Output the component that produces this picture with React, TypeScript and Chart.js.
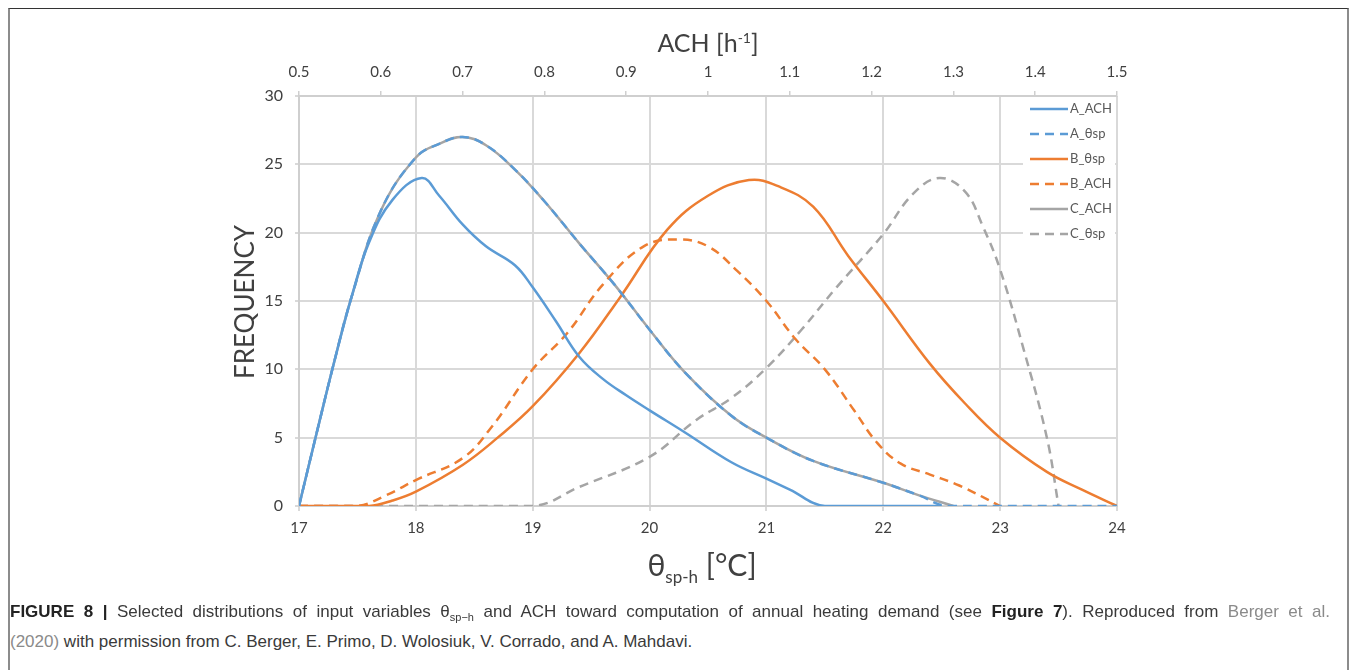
import React, { useEffect, useRef } from "react";
import { Chart, registerables } from "chart.js";

Chart.register(...registerables);

// ---------- data ----------
const xTicks = [17, 18, 19, 20, 21, 22, 23, 24];
const yTicks = [0, 5, 10, 15, 20, 25, 30];
const achTicks = [0.5, 0.6, 0.7, 0.8, 0.9, 1.0, 1.1, 1.2, 1.3, 1.4, 1.5];
const achTickLabels = ["0.5", "0.6", "0.7", "0.8", "0.9", "1", "1.1", "1.2", "1.3", "1.4", "1.5"];

const seriesNames = ["A_ACH", "A_θsp", "B_θsp", "B_ACH", "C_ACH", "C_θsp"];

const aAchX = [17, 17.15, 17.3, 17.45, 17.6, 17.8, 18.05, 18.2, 18.4, 18.6, 18.85, 19.0, 19.2, 19.4, 19.6, 19.8, 20.0, 20.3, 20.7, 21.0, 21.2, 21.5, 22.5];
const aAchY = [0, 5.3, 10.5, 15.3, 19.3, 22.4, 24.0, 22.7, 20.6, 19.0, 17.6, 16.0, 13.5, 10.9, 9.3, 8.1, 7.0, 5.4, 3.2, 2.0, 1.2, 0, 0];

const aSpX = [17, 17.15, 17.3, 17.45, 17.7, 18.0, 18.2, 18.4, 18.6, 18.85, 19.1, 19.4, 19.7, 20.0, 20.3, 20.7, 21.0, 21.4, 22.0, 22.3, 22.55, 24];
const aSpY = [0, 5.3, 10.5, 15.3, 21.6, 25.5, 26.5, 27.0, 26.4, 24.6, 22.3, 19.2, 16.2, 12.9, 9.8, 6.6, 5.0, 3.3, 1.7, 0.8, 0, 0];

const bSpX = [17, 17.6, 17.8, 18.0, 18.4, 18.7, 19.0, 19.4, 19.75, 20.15, 20.5, 20.85, 21.1, 21.4, 21.7, 22.0, 22.4, 22.7, 23.0, 23.4, 23.7, 24];
const bSpY = [0, 0, 0.4, 1.05, 3.0, 5.0, 7.3, 11.2, 15.3, 20.2, 22.7, 23.85, 23.4, 21.9, 18.3, 15.0, 10.4, 7.5, 5.0, 2.5, 1.2, 0];

const bAchX = [17, 17.5, 17.75, 18.0, 18.4, 18.65, 19.0, 19.3, 19.6, 19.95, 20.25, 20.5, 20.75, 21.0, 21.25, 21.5, 21.75, 21.95, 22.15, 22.4, 22.65, 23.0];
const bAchY = [0, 0, 0.8, 1.9, 3.5, 5.8, 10.0, 12.7, 16.2, 19.0, 19.5, 19.0, 17.2, 15.0, 12.2, 10.0, 7.0, 4.6, 3.1, 2.3, 1.5, 0];

const cAchX = [17, 17.15, 17.3, 17.45, 17.7, 18.0, 18.2, 18.4, 18.6, 18.85, 19.1, 19.4, 19.7, 20.0, 20.3, 20.7, 21.0, 21.4, 22.0, 22.3, 22.6];
const cAchY = [0, 5.3, 10.5, 15.3, 21.6, 25.5, 26.5, 27.0, 26.4, 24.6, 22.3, 19.2, 16.2, 12.9, 9.8, 6.6, 5.0, 3.3, 1.7, 0.8, 0];

const cSpX = [17, 19.0, 19.4, 20.0, 20.4, 20.7, 21.0, 21.3, 21.6, 22.0, 22.25, 22.48, 22.7, 22.85, 23.0, 23.2, 23.4, 23.5];
const cSpY = [0, 0, 1.4, 3.6, 6.3, 7.9, 10.1, 12.9, 16.0, 19.9, 22.8, 24.0, 23.0, 20.5, 17.3, 11.5, 5.0, 0];

const BLUE = "#5b9bd5";
const ORANGE = "#ed7d31";
const GRAY = "#a5a5a5";
const FONT = 'Lato, "Open Sans", sans-serif';
const CAPTION_FONT = '"Liberation Sans", Arial, sans-serif';

const pts = (xs: number[], ys: number[]) => xs.map((x, i) => ({ x, y: ys[i] }));

const legendPlugin = {
  id: "customLegend",
  beforeDatasetsDraw(chart: any) {
    const ctx = chart.ctx;
    ctx.save();
    ctx.fillStyle = "#ffffff";
    ctx.fillRect(1013, 91, 92, 146);
    chart.data.datasets.forEach((ds: any, i: number) => {
      const y = 100 + i * 25;
      ctx.beginPath();
      ctx.strokeStyle = ds.borderColor;
      ctx.lineWidth = 2.5;
      ctx.setLineDash(ds.borderDash || []);
      ctx.moveTo(1020, y);
      ctx.lineTo(1058, y);
      ctx.stroke();
      ctx.setLineDash([]);
      ctx.fillStyle = "#595959";
      ctx.font = `13px ${FONT}`;
      ctx.textBaseline = "middle";
      ctx.textAlign = "left";
      ctx.fillText(ds.label, 1060, y);
    });
    ctx.restore();
  },
};

export default function App() {
  const ref = useRef<HTMLCanvasElement | null>(null);

  useEffect(() => {
    if (!ref.current) return;
    const mk = (label: string, xs: number[], ys: number[], color: string, dashed: boolean) => ({
      label,
      data: pts(xs, ys),
      borderColor: color,
      backgroundColor: color,
      borderWidth: 2.5,
      borderDash: dashed ? [9, 6] : [],
      pointRadius: 0,
      tension: 0.4,
      fill: false,
    });
    const tickFont = { family: FONT, size: 15 };
    const chart = new Chart(ref.current, {
      type: "line",
      data: {
        datasets: [
          mk(seriesNames[0], aAchX, aAchY, BLUE, false),
          mk(seriesNames[1], aSpX, aSpY, BLUE, true),
          mk(seriesNames[2], bSpX, bSpY, ORANGE, false),
          mk(seriesNames[3], bAchX, bAchY, ORANGE, true),
          mk(seriesNames[4], cAchX, cAchY, GRAY, false),
          mk(seriesNames[5], cSpX, cSpY, GRAY, true),
        ],
      },
      options: {
        responsive: false,
        animation: false,
        devicePixelRatio: 1,
        layout: { padding: { left: 0, right: 223, top: 0, bottom: 53 } },
        plugins: { legend: { display: false }, tooltip: { enabled: false } },
        scales: {
          x: {
            type: "linear",
            position: "bottom",
            min: 17,
            max: 24,
            afterBuildTicks: (s: any) => { s.ticks = xTicks.map((v) => ({ value: v })); },
            afterFit: (s: any) => { s.height = 40; },
            grid: { color: "#d9d9d9", lineWidth: 2, tickLength: 5 },
            border: { color: "#cfcfcf", width: 2 },
            ticks: { font: tickFont, color: "#404040", padding: 8, maxRotation: 0, autoSkip: false },
          },
          x2: {
            type: "linear",
            position: "top",
            min: 0.5,
            max: 1.5,
            afterBuildTicks: (s: any) => { s.ticks = achTicks.map((v) => ({ value: v })); },
            afterFit: (s: any) => { s.height = 87; },
            grid: { drawOnChartArea: false, color: "#cfcfcf", lineWidth: 1.5, tickLength: 5 },
            border: { color: "#cfcfcf", width: 2 },
            ticks: {
              font: tickFont,
              color: "#404040",
              padding: 10,
              maxRotation: 0,
              autoSkip: false,
              callback: (_v: any, i: number) => achTickLabels[i],
            },
          },
          y: {
            type: "linear",
            min: 0,
            max: 30,
            afterBuildTicks: (s: any) => { s.ticks = yTicks.map((v) => ({ value: v })); },
            afterFit: (s: any) => { s.width = 289; },
            grid: { color: "#d9d9d9", lineWidth: 2, tickLength: 4 },
            border: { color: "#cfcfcf", width: 2 },
            ticks: { font: { family: FONT, size: 16 }, color: "#404040", padding: 12 },
          },
        },
      },
      plugins: [legendPlugin],
    } as any);
    return () => chart.destroy();
  }, []);

  return (
    <div
      style={{
        position: "relative",
        width: 1341,
        height: 680,
        boxSizing: "border-box",
        borderTop: "1.5px solid #333",
        borderLeft: "2px solid #8c8c8c",
        borderRight: "2px solid #8c8c8c",
        fontFamily: FONT,
      }}
    >
      <canvas ref={ref} width={1330} height={590} style={{ position: "absolute", left: 0, top: 0, width: 1330, height: 590 }} />
      <div
        style={{
          position: "absolute",
          left: 698,
          top: 33,
          transform: "translate(-50%, -50%)",
          whiteSpace: "nowrap",
          fontSize: 25,
          color: "#404040",
        }}
      >
        ACH [h<sup style={{ fontSize: 14 }}>-1</sup>]
      </div>
      <div
        style={{
          position: "absolute",
          left: 234,
          top: 293,
          transform: "translate(-50%, -50%) rotate(-90deg)",
          whiteSpace: "nowrap",
          fontSize: 26,
          color: "#404040",
        }}
      >
        FREQUENCY
      </div>
      <div
        style={{
          position: "absolute",
          left: 692,
          top: 557,
          transform: "translate(-50%, -50%)",
          whiteSpace: "nowrap",
          fontSize: 30,
          color: "#404040",
        }}
      >
        θ<sub style={{ fontSize: 17 }}>sp-h</sub> [°C]
      </div>
      <div
        style={{
          position: "absolute",
          left: 0,
          top: 588,
          width: 1320,
          height: 30,
          lineHeight: "30px",
          whiteSpace: "nowrap",
          textAlign: "justify",
          textAlignLast: "justify",
          fontFamily: CAPTION_FONT,
          fontSize: 17,
          color: "#3a3a3a",
        }}
      >
        <b style={{ color: "#222" }}>FIGURE 8 |</b> Selected distributions of input variables θ
        <sub style={{ fontSize: 11, lineHeight: 0 }}>sp−h</sub> and ACH toward computation of annual heating demand (see{" "}
        <b style={{ color: "#222" }}>Figure 7</b>). Reproduced from <span style={{ color: "#8a8a8a" }}>Berger et al.</span>
      </div>
      <div
        style={{
          position: "absolute",
          left: 0,
          top: 618,
          height: 30,
          lineHeight: "30px",
          whiteSpace: "nowrap",
          fontFamily: CAPTION_FONT,
          fontSize: 17,
          color: "#3a3a3a",
        }}
      >
        <span style={{ color: "#8a8a8a" }}>(2020)</span> with permission from C. Berger, E. Primo, D. Wolosiuk, V.
        Corrado, and A. Mahdavi.
      </div>
    </div>
  );
}
